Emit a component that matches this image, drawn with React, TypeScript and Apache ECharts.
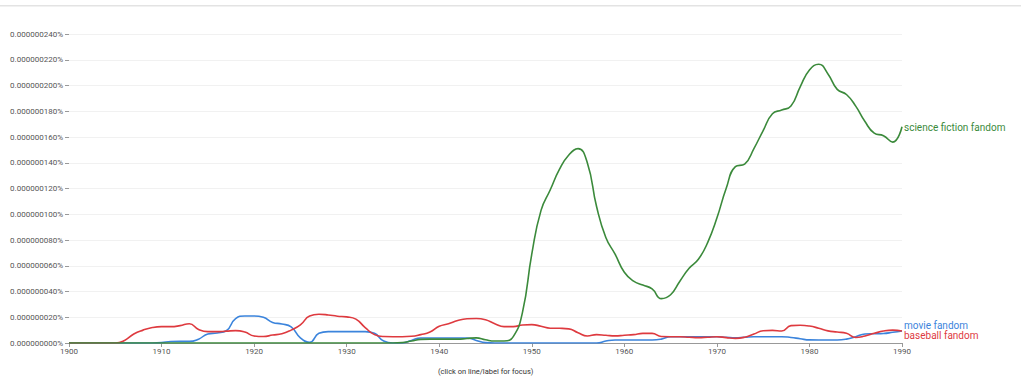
import React, { useEffect, useRef } from "react";
import * as echarts from "echarts";

const START_YEAR = 1900;
const END_YEAR = 1990;

// values in units of 1e-9 %  (20 => 0.000000020%)
const movieFandom = [
  0, 0, 0, 0, 0, 0, 0, 0, 0, 0,
  0.3, 1.2, 1.3, 1.3, 3, 7, 7.8, 9.5, 19, 21,
  21, 20, 16, 14.8, 12.5, 4, 0.5, 7.5, 8.8, 8.8,
  8.8, 8.8, 8.8, 7.5, 1.5, 0, 0, 2, 3.9, 3.9,
  3.9, 3.9, 3.9, 3.9, 2, 0.3, 0, 0, 0, 0,
  0, 0, 0, 0, 0, 0, 0, 0, 1.5, 2.3,
  2.3, 2.3, 2.3, 2.3, 3, 4.9, 4.9, 4.9, 4.9, 4.9,
  4.9, 4.5, 4.1, 4.5, 4.9, 4.9, 4.9, 4.9, 4.3, 3.3,
  2.4, 2.3, 2.3, 2.3, 3, 4.9, 7, 7.2, 7.4, 8.3,
  9.3,
];

const baseballFandom = [
  0, 0, 0, 0, 0, 0, 2, 7, 10, 12,
  12.7, 12.7, 13.5, 15, 10.5, 8.8, 8.8, 9.2, 9.6, 8.5,
  5.5, 5, 6.2, 7.2, 10, 14, 21, 22.3, 21.8, 20.8,
  20.3, 18.5, 12, 6.5, 5, 4.9, 4.9, 5.2, 6.5, 8.5,
  13, 15, 17.5, 18.8, 19, 18, 15, 12.7, 12.7, 14,
  14.3, 13, 11.5, 11.4, 11, 8, 5.4, 6.5, 6, 5.5,
  6, 6.5, 7.5, 7.5, 5, 4.9, 4.9, 4.5, 4.2, 4.5,
  4.9, 4.2, 3.6, 4.5, 7, 9.5, 9.8, 9.3, 13.5, 13.8,
  13.2, 11.5, 9.4, 8.5, 7.5, 4.3, 5.5, 7.5, 9.3, 10,
  9.3,
];

const scienceFictionFandom = [
  0, 0, 0, 0, 0, 0, 0, 0, 0, 0,
  0, 0, 0, 0, 0, 0, 0, 0, 0, 0,
  0, 0, 0, 0, 0, 0, 0, 0, 0, 0,
  0, 0, 0, 0, 0, 0, 0.3, 1.5, 2.8, 3,
  3, 3, 3, 3.5, 4, 2.5, 1.5, 1.5, 5, 24,
  69, 103, 119, 135, 146, 151, 140, 106, 82, 69,
  55, 48, 45, 42, 34.5, 37.5, 48, 58, 65, 78,
  97, 120, 137, 139, 151, 165, 178, 181, 184, 199,
  212, 216.5, 209, 197, 193, 184, 172, 163, 161, 156,
  168,
];

const seriesNames = ["movie fandom", "baseball fandom", "science fiction fandom"];
const seriesColors = ["#3b84dc", "#de3a3f", "#3b8a3b"];
const yTickMax = 240;
const yTickStep = 20;
const xTickStep = 10;
const footnote = "(click on line/label for focus)";

const FONT = "Roboto, 'Noto Sans', sans-serif";

export default function App() {
  const ref = useRef<HTMLDivElement>(null);

  useEffect(() => {
    document.body.style.margin = "0";
    if (!ref.current) return;
    const chart = echarts.init(ref.current, null, { renderer: "svg" });

    const years: number[] = [];
    for (let y = START_YEAR; y <= END_YEAR; y++) years.push(y);
    const toPairs = (vals: number[]) => years.map((y, i) => [y, vals[i]]);
    const allValues = [movieFandom, baseballFandom, scienceFictionFandom];
    const offsets = [[0, -6], [0, 4], [0, 1]];

    const series = allValues.map((vals, i) => ({
      type: "line",
      name: seriesNames[i],
      data: toPairs(vals),
      smooth: 0.5,
      showSymbol: false,
      symbol: "none",
      lineStyle: { color: seriesColors[i], width: 1.6 },
      itemStyle: { color: seriesColors[i] },
      z: 2 + i,
      endLabel: {
        show: true,
        formatter: seriesNames[i],
        color: seriesColors[i],
        fontSize: 10,
        lineHeight: 10,
        fontFamily: FONT,
        distance: 2,
        offset: offsets[i],
      },
    }));

    chart.setOption({
      animation: false,
      backgroundColor: "#ffffff",
      grid: { left: 69, right: 119, top: 34, bottom: 35, containLabel: false },
      xAxis: {
        type: "value",
        min: START_YEAR,
        max: END_YEAR,
        interval: xTickStep,
        axisLine: { show: true, lineStyle: { color: "#999", width: 1 } },
        axisTick: { show: true, length: 4, lineStyle: { color: "#999" } },
        axisLabel: {
          color: "#555",
          fontSize: 8,
          fontFamily: FONT,
          margin: 4,
          formatter: (v: number) => String(v),
        },
        splitLine: { show: false },
      },
      yAxis: {
        type: "value",
        min: 0,
        max: yTickMax,
        interval: yTickStep,
        axisLine: { show: false },
        axisTick: { show: true, length: 4, lineStyle: { color: "#999" } },
        axisLabel: {
          color: "#555",
          fontSize: 8,
          fontFamily: FONT,
          margin: 6,
          formatter: (v: number) => (v / 1e9).toFixed(9) + "%",
        },
        splitLine: { show: true, lineStyle: { color: "#f1f1f1", width: 1 } },
      },
      series,
      graphic: [
        {
          type: "rect",
          left: 0,
          top: 5,
          shape: { width: 1021, height: 1.5 },
          style: { fill: "#e3e3e3" },
          silent: true,
        },
        {
          type: "text",
          left: 438,
          top: 367,
          style: {
            text: footnote,
            fill: "#333",
            fontSize: 7.5,
            fontFamily: FONT,
          },
        },
      ],
    });

    return () => chart.dispose();
  }, []);

  return <div ref={ref} style={{ width: 1021, height: 378 }} />;
}
